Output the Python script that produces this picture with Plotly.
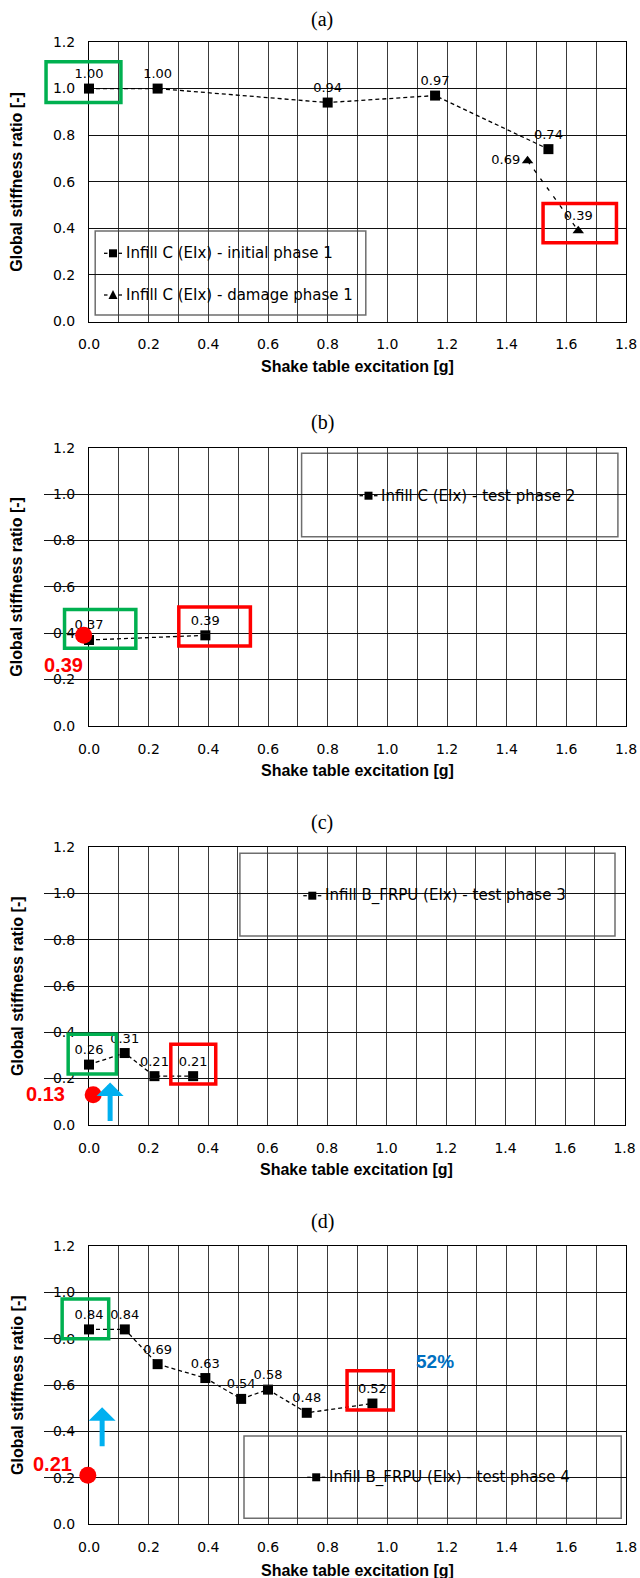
import plotly.graph_objects as go

# ---------------- data ----------------
# (a) phase 1
a_init_x = [0.0, 0.23, 0.80, 1.16, 1.54]
a_init_y = [1.00, 1.00, 0.94, 0.97, 0.74]
a_dmg_x = [1.47, 1.64]
a_dmg_y = [0.69, 0.39]
# (b) phase 2
b_x = [0.0, 0.39]
b_y = [0.37, 0.39]
b_prev_x = [-0.018]
b_prev_y = [0.39]
# (c) phase 3
c_x = [0.0, 0.12, 0.22, 0.35]
c_y = [0.26, 0.31, 0.21, 0.21]
c_prev_x = [0.014]
c_prev_y = [0.13]
# (d) phase 4
d_x = [0.0, 0.12, 0.23, 0.39, 0.51, 0.60, 0.73, 0.95]
d_y = [0.84, 0.84, 0.69, 0.63, 0.54, 0.58, 0.48, 0.52]
d_prev_x = [-0.004]
d_prev_y = [0.21]
d_recovery = "52%"

panel_titles = ["(a)", "(b)", "(c)", "(d)"]
x_title = "Shake table excitation [g]"
y_title = "Global stiffness ratio [-]"
legend_names = [
    ["Infill C (EIx) - initial phase 1", "Infill C (EIx) - damage phase 1"],
    ["Infill C (EIx) - test phase 2"],
    ["Infill B_FRPU (EIx) - test phase 3"],
    ["Infill B_FRPU (EIx) - test phase 4"],
]
legend_symbols = [["square", "triangle-up"], ["square"], ["square"], ["square"]]

X_RANGE = [0.0, 1.8]
Y_RANGE = [0.0, 1.2]
X_PAD = 0.15  # extra room left of 0 for the carried-over points

# ---------------- layout geometry (pixels) ----------------
W, H = 640.0, 1578.0
panels = [
    dict(x0=89, x1=626.0, top=42.0, bot=321.5, title_y=19.0, xt_y=366.7,
         leg=(95.2, 231.0, 365.8, 315.0), leg_text_x=123.5, leg_rows=[253.3, 295.0]),
    dict(x0=89, x1=626.0, top=447.7, bot=725.7, title_y=422.7, xt_y=770.0,
         leg=(301.6, 453.3, 617.9, 536.7), leg_text_x=379.0, leg_rows=[495.7]),
    dict(x0=89, x1=624.5, top=847.3, bot=1124.7, title_y=822.0, xt_y=1169.3,
         leg=(239.9, 853.3, 615.0, 936.0), leg_text_x=322.8, leg_rows=[895.7]),
    dict(x0=89, x1=626.0, top=1246.0, bot=1524.0, title_y=1221.7, xt_y=1570.0,
         leg=(244.0, 1436.0, 621.2, 1518.3), leg_text_x=326.7, leg_rows=[1477.3]),
]


def px_x(p):
    return p / W


def px_y(p):
    return 1.0 - p / H


def xdom(v):
    return (v - X_RANGE[0]) / (X_RANGE[1] - X_RANGE[0])


def ydom(v):
    return (v - Y_RANGE[0]) / (Y_RANGE[1] - Y_RANGE[0])


TICK_FONT = dict(family="DejaVu Sans", size=14, color="black")
LABEL_FONT = dict(family="DejaVu Sans", size=13, color="black")
LEGEND_FONT = dict(family="DejaVu Sans", size=15, color="black")
AXTITLE_FONT = dict(family="Liberation Sans", size=16, color="black", weight="bold")
PTITLE_FONT = dict(family="Liberation Serif", size=20, color="black")
RED_FONT = dict(family="Liberation Sans", size=20, color="#FF0000", weight="bold")
GREEN = "#00B050"
RED = "#FF0000"
BLUE = "#00B0F0"
DASH = "4px,3px"

fig = go.Figure()


def sfx_of(i):
    return "" if i == 0 else str(i + 1)


def fmt(vals):
    return [f"{v:.2f}" for v in vals]


def series(i, xs, ys, name, symbol, textpos="top center", dash=DASH):
    sfx = sfx_of(i)
    fig.add_trace(go.Scatter(
        x=xs, y=ys, name=name, mode="lines+markers+text",
        xaxis="x" + sfx, yaxis="y" + sfx, showlegend=False,
        line=dict(color="black", width=1.3, dash=dash),
        marker=dict(symbol=symbol, size=10, color="black"),
        text=fmt(ys), textposition=textpos, textfont=LABEL_FONT,
        cliponaxis=False,
    ))


def prev_point(i, xs, ys):
    # drawn on a hidden x axis that extends a little left of 0
    xa = "x" + str(5 + i)
    fig.add_trace(go.Scatter(
        x=xs, y=ys, mode="markers", showlegend=False,
        xaxis=xa, yaxis="y" + sfx_of(i),
        marker=dict(symbol="circle", size=17, color=RED),
        cliponaxis=False,
    ))


series(0, a_init_x, a_init_y, legend_names[0][0], "square")
series(0, a_dmg_x, a_dmg_y, legend_names[0][1], "triangle-up",
       textpos=["middle left", "top center"], dash="4px,7px")
series(1, b_x, b_y, legend_names[1][0], "square")
prev_point(1, b_prev_x, b_prev_y)
series(2, c_x, c_y, legend_names[2][0], "square")
prev_point(2, c_prev_x, c_prev_y)
series(3, d_x, d_y, legend_names[3][0], "square")
prev_point(3, d_prev_x, d_prev_y)

shapes = []
annotations = []
layout = dict(
    width=640, height=1578,
    margin=dict(l=0, r=0, t=0, b=0, pad=0, autoexpand=False),
    paper_bgcolor="white", plot_bgcolor="rgba(0,0,0,0)",
    showlegend=False,
)


def legend_entry(text_x, row_y, symbol, label):
    """Excel-style '-■-' legend key followed by its label (pixel positions)."""
    cx = text_x - 10.5
    for a, b in [(cx - 9, cx - 5.5), (cx + 5.5, cx + 9)]:
        shapes.append(dict(type="line", xref="paper", yref="paper",
                           x0=px_x(a), x1=px_x(b), y0=px_y(row_y), y1=px_y(row_y),
                           line=dict(color="black", width=1.3)))
    if symbol == "square":
        shapes.append(dict(type="rect", xref="paper", yref="paper",
                           x0=px_x(cx - 4), x1=px_x(cx + 4),
                           y0=px_y(row_y + 4), y1=px_y(row_y - 4),
                           line=dict(width=0), fillcolor="black"))
    else:
        path = (f"M {px_x(cx - 4.5)},{px_y(row_y + 4)} "
                f"L {px_x(cx + 4.5)},{px_y(row_y + 4)} "
                f"L {px_x(cx)},{px_y(row_y - 5)} Z")
        shapes.append(dict(type="path", xref="paper", yref="paper", path=path,
                           line=dict(width=0), fillcolor="black"))
    annotations.append(dict(text=label, xref="paper", yref="paper",
                            x=px_x(text_x), y=px_y(row_y),
                            xanchor="left", yanchor="middle",
                            showarrow=False, font=LEGEND_FONT))


for i, p in enumerate(panels):
    sfx = sfx_of(i)
    xa = dict(
        domain=[px_x(p["x0"]), px_x(p["x1"])], anchor="y" + sfx,
        range=X_RANGE, dtick=0.2, tick0=0, tickformat=".1f",
        showgrid=True, gridcolor="#3a3a3a", gridwidth=1,
        minor=dict(dtick=0.1, tick0=0, showgrid=True, gridcolor="#3a3a3a", gridwidth=1),
        showline=True, linecolor="black", linewidth=1, mirror=True,
        ticks="", ticklabelstandoff=10, tickfont=TICK_FONT,
        zeroline=False, fixedrange=True, automargin=False,
    )
    ya = dict(
        domain=[px_y(p["bot"]), px_y(p["top"])], anchor="x" + sfx,
        range=Y_RANGE, dtick=0.2, tick0=0, tickformat=".1f",
        showgrid=True, gridcolor="#111111", gridwidth=1,
        showline=True, linecolor="black", linewidth=1, mirror=True,
        ticks="", ticklabelstandoff=10, tickfont=TICK_FONT,
        zeroline=False, fixedrange=True, automargin=False,
    )
    layout["xaxis" + sfx] = xa
    layout["yaxis" + sfx] = ya

    # hidden companion x axis with the same scale, reaching left of 0
    if i > 0:
        unit = (p["x1"] - p["x0"]) / (X_RANGE[1] - X_RANGE[0])
        layout["xaxis" + str(5 + i)] = dict(
            domain=[px_x(p["x0"] - X_PAD * unit), px_x(p["x1"])],
            range=[X_RANGE[0] - X_PAD, X_RANGE[1]], anchor="y" + sfx,
            visible=False, showgrid=False, zeroline=False, fixedrange=True,
        )

    # legend frame and entries
    lx0, ly0, lx1, ly1 = p["leg"]
    shapes.append(dict(type="rect", xref="paper", yref="paper",
                       x0=px_x(lx0), x1=px_x(lx1), y0=px_y(ly1), y1=px_y(ly0),
                       line=dict(color="#6e6e6e", width=1.5), fillcolor="white",
                       layer="between"))
    for row_y, sym, label in zip(p["leg_rows"], legend_symbols[i], legend_names[i]):
        legend_entry(p["leg_text_x"], row_y, sym, label)

    # panel title
    annotations.append(dict(text=panel_titles[i], xref="paper", yref="paper",
                            x=px_x(322), y=px_y(p["title_y"]),
                            xanchor="center", yanchor="middle",
                            showarrow=False, font=PTITLE_FONT))
    # axis titles
    annotations.append(dict(text=x_title, xref="paper", yref="paper",
                            x=px_x((p["x0"] + p["x1"]) / 2), y=px_y(p["xt_y"]),
                            xanchor="center", yanchor="middle",
                            showarrow=False, font=AXTITLE_FONT))
    annotations.append(dict(text=y_title, xref="paper", yref="paper",
                            x=px_x(17), y=px_y((p["top"] + p["bot"]) / 2),
                            xanchor="center", yanchor="middle", textangle=-90,
                            showarrow=False, font=AXTITLE_FONT))

# highlight boxes (data units -> axis-domain fractions)
boxes = [
    (0, GREEN, (-0.144, 0.107), (0.94, 1.115)),
    (0, RED, (1.522, 1.768), (0.338, 0.507)),
    (1, GREEN, (-0.082, 0.157), (0.334, 0.502)),
    (1, RED, (0.301, 0.541), (0.344, 0.512)),
    (2, GREEN, (-0.070, 0.092), (0.219, 0.391)),
    (2, RED, (0.275, 0.426), (0.176, 0.348)),
    (3, GREEN, (-0.090, 0.066), (0.80, 0.971)),
    (3, RED, (0.865, 1.020), (0.492, 0.662)),
]
for i, col, (bx0, bx1), (by0, by1) in boxes:
    sfx = sfx_of(i)
    shapes.append(dict(type="rect", xref=f"x{sfx} domain", yref=f"y{sfx} domain",
                       x0=xdom(bx0), x1=xdom(bx1), y0=ydom(by0), y1=ydom(by1),
                       line=dict(color=col, width=3.5), fillcolor="rgba(0,0,0,0)",
                       layer="above"))

# red labels for the carried-over stiffness values
for i, xs, ys, dx, dy in [(1, b_prev_x, b_prev_y, -20, -30),
                          (2, c_prev_x, c_prev_y, -48, 1),
                          (3, d_prev_x, d_prev_y, -35, 11)]:
    annotations.append(dict(text=f"{ys[0]:.2f}", xref="x" + str(5 + i), yref="y" + sfx_of(i),
                            x=xs[0], y=ys[0], xshift=dx, yshift=dy,
                            showarrow=False, font=RED_FONT))

# blue arrows
for i, ax_x, tail, tip in [(2, 0.071, 0.009, 0.183), (3, 0.044, 0.329, 0.504)]:
    sfx = sfx_of(i)
    annotations.append(dict(text="", xref="x" + sfx, yref="y" + sfx,
                            axref="x" + sfx, ayref="y" + sfx,
                            x=ax_x, y=tip, ax=ax_x, ay=tail,
                            showarrow=True, arrowhead=1, arrowwidth=5,
                            arrowsize=0.9, arrowcolor=BLUE))

# recovery percentage in (d)
annotations.append(dict(text=d_recovery, xref="x4", yref="y4", x=1.16, y=0.70,
                        showarrow=False,
                        font=dict(family="Liberation Sans", size=19, color="#0070C0",
                                  weight="bold")))

layout["shapes"] = shapes
layout["annotations"] = annotations
fig.update_layout(**layout)

fig.write_html("out.html")
